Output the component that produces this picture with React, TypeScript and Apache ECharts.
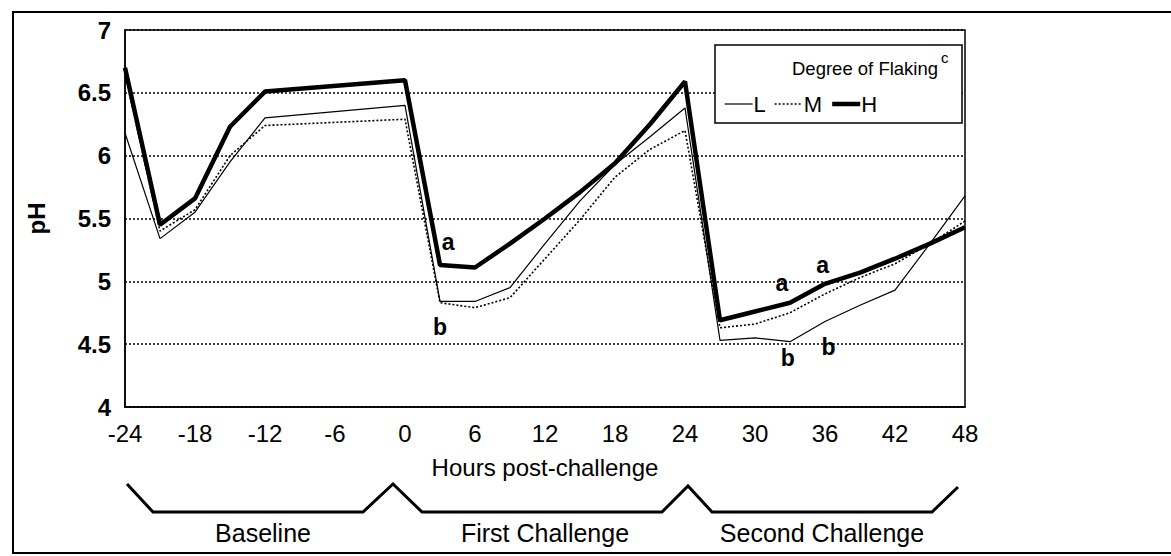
import React, { useEffect, useRef } from "react";
import * as echarts from "echarts";

const hours = [-24, -21, -18, -15, -12, 0, 3, 6, 9, 12, 15, 18, 21, 24, 27, 30, 33, 36, 39, 42, 45, 48];
const seriesL = [6.18, 5.34, 5.55, 5.95, 6.30, 6.40, 4.84, 4.84, 4.95, 5.30, 5.64, 5.93, 6.15, 6.38, 4.53, 4.55, 4.52, 4.68, 4.81, 4.93, 5.30, 5.68];
const seriesM = [6.65, 5.40, 5.57, 6.00, 6.24, 6.29, 4.83, 4.79, 4.87, 5.18, 5.49, 5.83, 6.05, 6.20, 4.63, 4.66, 4.75, 4.90, 5.03, 5.14, 5.30, 5.48];
const seriesH = [6.70, 5.45, 5.66, 6.23, 6.51, 6.60, 5.13, 5.11, 5.30, 5.50, 5.71, 5.94, 6.25, 6.59, 4.69, 4.76, 4.83, 4.98, 5.07, 5.18, 5.30, 5.43];
const seriesNames = ["L", "M", "H"];
const lineWidths = [1.2, 1.6, 4.5];
const lineTypes: any[] = ["solid", [2, 2], "solid"];

const annoX = [3.7, 3.0, 32.3, 35.8, 32.8, 36.3];
const annoY = [5.31, 4.64, 4.99, 5.13, 4.39, 4.48];
const annoText = ["a", "b", "a", "a", "b", "b"];

const phaseLabels = ["Baseline", "First Challenge", "Second Challenge"];
const xTitle = "Hours post-challenge";
const yTitle = "pH";
const legendTitle = "Degree of Flaking";

const FONT = "'Liberation Sans', Arial, Helvetica, sans-serif";

export default function App() {
  const ref = useRef<HTMLDivElement>(null);
  useEffect(() => {
    if (!ref.current) return;
    const chart = echarts.init(ref.current, null, { renderer: "svg" });
    const toPairs = (vals: number[]) => hours.map((h, i) => [h, vals[i]]);
    const allSeries = [seriesL, seriesM, seriesH];
    const option: any = {
      animation: false,
      backgroundColor: "#fff",
      textStyle: { fontFamily: FONT, color: "#000" },
      grid: {
        left: 125,
        top: 30,
        right: 206,
        bottom: 149,
        show: true,
        borderColor: "#000",
        borderWidth: 1.5,
        backgroundColor: "transparent",
      },
      xAxis: {
        type: "value",
        min: -24,
        max: 48,
        interval: 6,
        axisLine: { show: true, onZero: false, lineStyle: { color: "#000", width: 1.5 } },
        axisTick: { show: false },
        splitLine: { show: false },
        axisLabel: { fontSize: 24, color: "#000", fontFamily: FONT, margin: 14 },
        name: xTitle,
        nameLocation: "middle",
        nameGap: 48,
        nameTextStyle: { fontSize: 24, color: "#000", fontFamily: FONT },
      },
      yAxis: {
        type: "value",
        min: 4,
        max: 7,
        interval: 0.5,
        axisLine: { show: true, onZero: false, lineStyle: { color: "#000", width: 1.5 } },
        axisTick: { show: false },
        splitLine: { show: true, lineStyle: { color: "#000", type: [2, 2], width: 1.5 } },
        axisLabel: { fontSize: 24, fontWeight: "bold", color: "#000", fontFamily: FONT, margin: 14 },
        name: yTitle,
        nameLocation: "middle",
        nameGap: 77,
        nameTextStyle: { fontSize: 24, fontWeight: "bold", color: "#000", fontFamily: FONT },
      },
      legend: {
        data: seriesNames.map((n, i) => ({
          name: n,
          itemStyle: { color: "rgba(0,0,0,0)", borderWidth: 0, opacity: 0 },
          lineStyle: { color: "#000", width: lineWidths[i], type: lineTypes[i], opacity: 1 },
        })),
        left: 724,
        top: 93,
        z: 20,
        orient: "horizontal",
        itemWidth: 28,
        itemHeight: 12,
        itemGap: 8,
        padding: 0,
        textStyle: { fontSize: 22, color: "#000", fontFamily: FONT, padding: [0, 0, 0, -4] },
      },
      series: [
        ...seriesNames.map((n, i) => ({
          name: n,
          type: "line",
          data: toPairs(allSeries[i]),
          symbol: "none",
          lineStyle: { color: "#000", width: lineWidths[i], type: lineTypes[i] },
          itemStyle: { color: "#000" },
          z: i === 2 ? 4 : 3,
        })),
        {
          name: "annotations",
          type: "scatter",
          silent: true,
          symbolSize: 0,
          itemStyle: { color: "#000", opacity: 1 },
          data: annoX.map((x, i) => [x, annoY[i], annoText[i]]),
          label: {
            show: true,
            position: "inside",
            formatter: (p: any) => p.data[2],
            fontSize: 23,
            fontWeight: "bold",
            color: "#000",
            opacity: 1,
            textBorderWidth: 0,
            fontFamily: FONT,
          },
          z: 5,
        },
      ],
      graphic: [
        {
          type: "rect",
          shape: { x: 13, y: 12, width: 1200, height: 541 },
          style: { fill: "none", stroke: "#000", lineWidth: 2 },
          silent: true,
          z: -1,
        },
        {
          type: "rect",
          shape: { x: 715, y: 45, width: 247, height: 78 },
          style: { fill: "#fff", stroke: "#000", lineWidth: 1.5 },
          z: 10,
        },
        {
          type: "text",
          x: 792,
          y: 68,
          style: { text: legendTitle, fontSize: 18.5, fill: "#000", fontFamily: FONT, verticalAlign: "middle" },
          z: 11,
        },
        {
          type: "text",
          x: 941,
          y: 57,
          style: { text: "c", fontSize: 15, fill: "#000", fontFamily: FONT, verticalAlign: "middle" },
          z: 11,
        },
        {
          type: "polyline",
          shape: {
            points: [
              [127, 484], [153, 512], [363, 512], [393, 484], [422, 512],
              [662, 512], [688, 486], [712, 512], [932, 512], [958, 487],
            ],
          },
          style: { stroke: "#000", lineWidth: 3, fill: "none" },
          silent: true,
        },
        {
          type: "text",
          x: 263,
          y: 533,
          style: { text: phaseLabels[0], fontSize: 25, fill: "#000", fontFamily: FONT, align: "center", verticalAlign: "middle" },
        },
        {
          type: "text",
          x: 545,
          y: 533,
          style: { text: phaseLabels[1], fontSize: 25, fill: "#000", fontFamily: FONT, align: "center", verticalAlign: "middle" },
        },
        {
          type: "text",
          x: 822,
          y: 533,
          style: { text: phaseLabels[2], fontSize: 25, fill: "#000", fontFamily: FONT, align: "center", verticalAlign: "middle" },
        },
      ],
    };
    chart.setOption(option);
    return () => chart.dispose();
  }, []);
  return (
    <div
      ref={ref}
      style={{ position: "fixed", left: 0, top: 0, width: 1171, height: 556, background: "#fff" }}
    />
  );
}
